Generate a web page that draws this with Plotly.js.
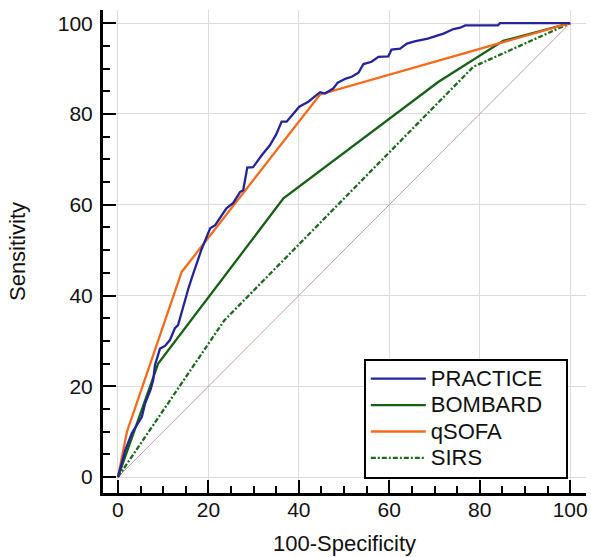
<!DOCTYPE html>
<html>
<head>
<meta charset="utf-8">
<script src="https://cdn.plot.ly/plotly-3.0.1.min.js"></script>
<style>html,body{margin:0;padding:0;background:#fff;}#chart{width:591px;height:557px;}</style>
</head>
<body>
<div id="chart"></div>
<script>
// PRACTICE ROC curve (100-Specificity, Sensitivity)
var practiceX = [0,1.6,3.1,5.3,6.0,7.2,7.8,8.2,9.3,10.4,11.5,12.6,13.3,14.1,14.8,15.6,16.3,17.4,18.5,20.4,21.5,24.0,25.5,27.0,27.7,28.6,29.9,31.8,33.6,35.0,36.2,37.3,38.4,40.1,42.1,44.7,45.8,47.6,48.6,50.4,51.7,53.2,54.3,56.1,57.6,59.8,60.5,62.4,63.9,65.6,68.5,72.0,74.2,75.7,76.8,84.0,84.5,100];
var practiceY = [0,5.9,9.7,13.3,16.2,19.2,21.4,24.7,28.3,28.9,30.2,32.8,33.5,36.4,39.0,41.6,43.8,47.1,50.2,54.8,55.5,59.2,60.4,62.8,63.2,68.2,68.3,70.9,73.1,75.5,78.3,78.3,79.7,81.6,82.7,84.8,84.5,85.6,86.9,87.8,88.2,89.1,91.0,91.5,92.6,92.7,94.2,94.4,95.5,96.0,96.6,97.7,98.7,99.0,99.5,99.5,100,100];
var bombardX = [0,8.9,36.6,70.9,85.2,100];
var bombardY = [0,25.0,61.4,87.1,96.1,100];
var qsofaX = [0,2.0,14.1,44.7,100];
var qsofaY = [0,10.0,45.2,84.3,100];
var sirsX = [0,23.5,78.6,100];
var sirsY = [0,34.5,90.4,100];
var diagX = [0,100];
var diagY = [0,100];
var tickVals = [0,20,40,60,80,100];
var seriesNames = ['PRACTICE', 'BOMBARD', 'qSOFA', 'SIRS'];

var FONT = 'Liberation Sans, Arial, sans-serif';
function legendName(s) {
  return '<span style="font-size:22px">' + s + '\u00a0\u00a0\u00a0</span>';
}

var traces = [
  {x: diagX, y: diagY, mode:'lines', line:{color:'#cc9a9a', width:1}, showlegend:false, hoverinfo:'skip'},
  {x: sirsX, y: sirsY, name: legendName(seriesNames[3]), legendrank: 4, mode:'lines', line:{color:'#1b6a1b', width:2.3, dash:'5px,2px,2px,2px'}},
  {x: bombardX, y: bombardY, name: legendName(seriesNames[1]), legendrank: 2, mode:'lines', line:{color:'#156015', width:2.3}},
  {x: qsofaX, y: qsofaY, name: legendName(seriesNames[2]), legendrank: 3, mode:'lines', line:{color:'#f76a1c', width:2.3}},
  {x: practiceX, y: practiceY, name: legendName(seriesNames[0]), legendrank: 1, mode:'lines', line:{color:'#24249a', width:2.3}}
];

var axisCommon = {
  showline: true, linecolor: '#000', linewidth: 3, mirror: false,
  showgrid: true, gridcolor: '#dcdcdc', gridwidth: 1, zeroline: false,
  ticks: 'inside', ticklen: 13, tickwidth: 2, tickcolor: '#000',
  tickvals: tickVals, ticktext: tickVals.map(String),
  tickfont: {family: FONT, size: 21, color: '#111'},
  minor: {dtick: 5, tick0: 0, ticks: 'inside', ticklen: 7, tickwidth: 2, tickcolor: '#000', showgrid: false}
};

var layout = {
  width: 591, height: 557,
  margin: {l: 103, r: 5, t: 10, b: 64},
  paper_bgcolor: '#fff', plot_bgcolor: '#fff',
  xaxis: Object.assign({}, axisCommon, {
    range: [-3.3, 103.5],
    ticklabelstandoff: -4,
    title: {text: '100-Specificity', font: {family: FONT, size: 22, color: '#111'}, standoff: 16}
  }),
  yaxis: Object.assign({}, axisCommon, {
    range: [-3.5, 102.9],
    ticklabelstandoff: 3,
    title: {text: 'Sensitivity', font: {family: FONT, size: 22, color: '#111'}, standoff: 27}
  }),
  legend: {
    x: 0.54, y: 0.03, xanchor: 'left', yanchor: 'bottom',
    bgcolor: '#fff', bordercolor: '#000', borderwidth: 2,
    traceorder: 'normal', itemwidth: 55,
    font: {family: FONT, size: 18, color: '#111'}
  },
  showlegend: true
};

Plotly.newPlot('chart', traces, layout, {displayModeBar: false, staticPlot: true});
</script>
</body>
</html>
